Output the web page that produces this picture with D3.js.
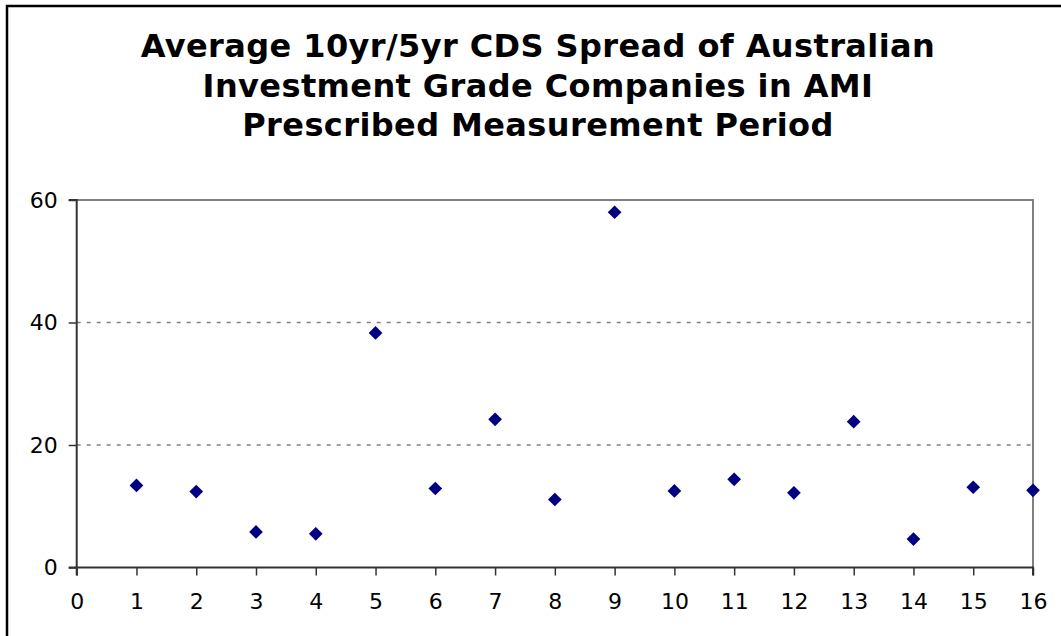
<!DOCTYPE html>
<html><head><meta charset="utf-8">
<script src="https://cdn.jsdelivr.net/npm/d3@7"></script>
<style>body{margin:0;background:#fff}svg{display:block}</style>
</head><body>
<script>
const titleLines = ["Average 10yr/5yr CDS Spread of Australian", "Investment Grade Companies in AMI", "Prescribed Measurement Period"];
const xValues = [1,2,3,4,5,6,7,8,9,10,11,12,13,14,15,16];
const yValues = [13.4,12.4,5.8,5.5,38.3,12.9,24.2,11.1,58.0,12.5,14.4,12.2,23.8,4.65,13.1,12.6];
const xTicks = [0,1,2,3,4,5,6,7,8,9,10,11,12,13,14,15,16];
const yTicks = [0,20,40,60];
const gridTicks = [20,40];

const W = 1061, H = 636;
const svg = d3.select("body").append("svg").attr("width", W).attr("height", H);
const m = {left: 76.7, right: 1033, top: 200, bottom: 567.5};
const x = d3.scaleLinear().domain([0,16]).range([m.left, m.right]);
const y = d3.scaleLinear().domain([0,60]).range([m.bottom, m.top]);

// outer border
svg.append("rect").attr("x",7).attr("y",6).attr("width",W+20).attr("height",H+20)
  .attr("fill","#fff").attr("stroke","#000").attr("stroke-width",2.5);

// title
const title = svg.append("text").attr("text-anchor","middle")
  .attr("font-family","Verdana, 'DejaVu Sans', sans-serif").attr("font-weight","bold")
  .attr("font-size",32).attr("letter-spacing",0.4).attr("fill","#000");
titleLines.forEach((t,i)=>{
  title.append("tspan").attr("x",538).attr("y",57+i*39.5).text(t);
});

// gridlines
svg.append("g").selectAll("line").data(gridTicks).join("line")
  .attr("x1",m.left).attr("x2",m.right).attr("y1",d=>y(d)).attr("y2",d=>y(d))
  .attr("stroke","#808080").attr("stroke-width",1.5).attr("stroke-dasharray","4,6");

// plot border top and right
svg.append("path").attr("d",`M${m.left},${m.top}H${m.right}V${m.bottom}`)
  .attr("fill","none").attr("stroke","#808080").attr("stroke-width",2);

// axes
const yAxis = svg.append("g").attr("transform",`translate(${m.left},0)`)
  .call(d3.axisLeft(y).tickValues(yTicks).tickSize(8).tickPadding(11).tickFormat(d3.format("d")));
const xAxis = svg.append("g").attr("transform",`translate(0,${m.bottom})`)
  .call(d3.axisBottom(x).tickValues(xTicks).tickSize(8).tickPadding(18).tickFormat(d3.format("d")));
[yAxis,xAxis].forEach(a=>{
  a.attr("font-size",22).attr("font-family","Verdana, 'DejaVu Sans', sans-serif");
  a.select(".domain").attr("stroke","#333").attr("stroke-width",2);
  a.selectAll(".tick line").attr("stroke","#333").attr("stroke-width",1.5);
  a.selectAll("text").attr("fill","#000");
});
yAxis.select(".domain").attr("d",`M-8,${m.top}H0V${m.bottom}H-8`);
xAxis.select(".domain").attr("d",`M${m.left},8V0H${m.right}V8`);

// points
const sym = d3.symbol().type(d3.symbolDiamond2).size(120);
svg.append("g").selectAll("path").data(xValues.map((v,i)=>[v,yValues[i]])).join("path")
  .attr("d",sym).attr("transform",d=>`translate(${x(d[0])},${y(d[1])})`)
  .attr("fill","#000080");
</script>
</body></html>
